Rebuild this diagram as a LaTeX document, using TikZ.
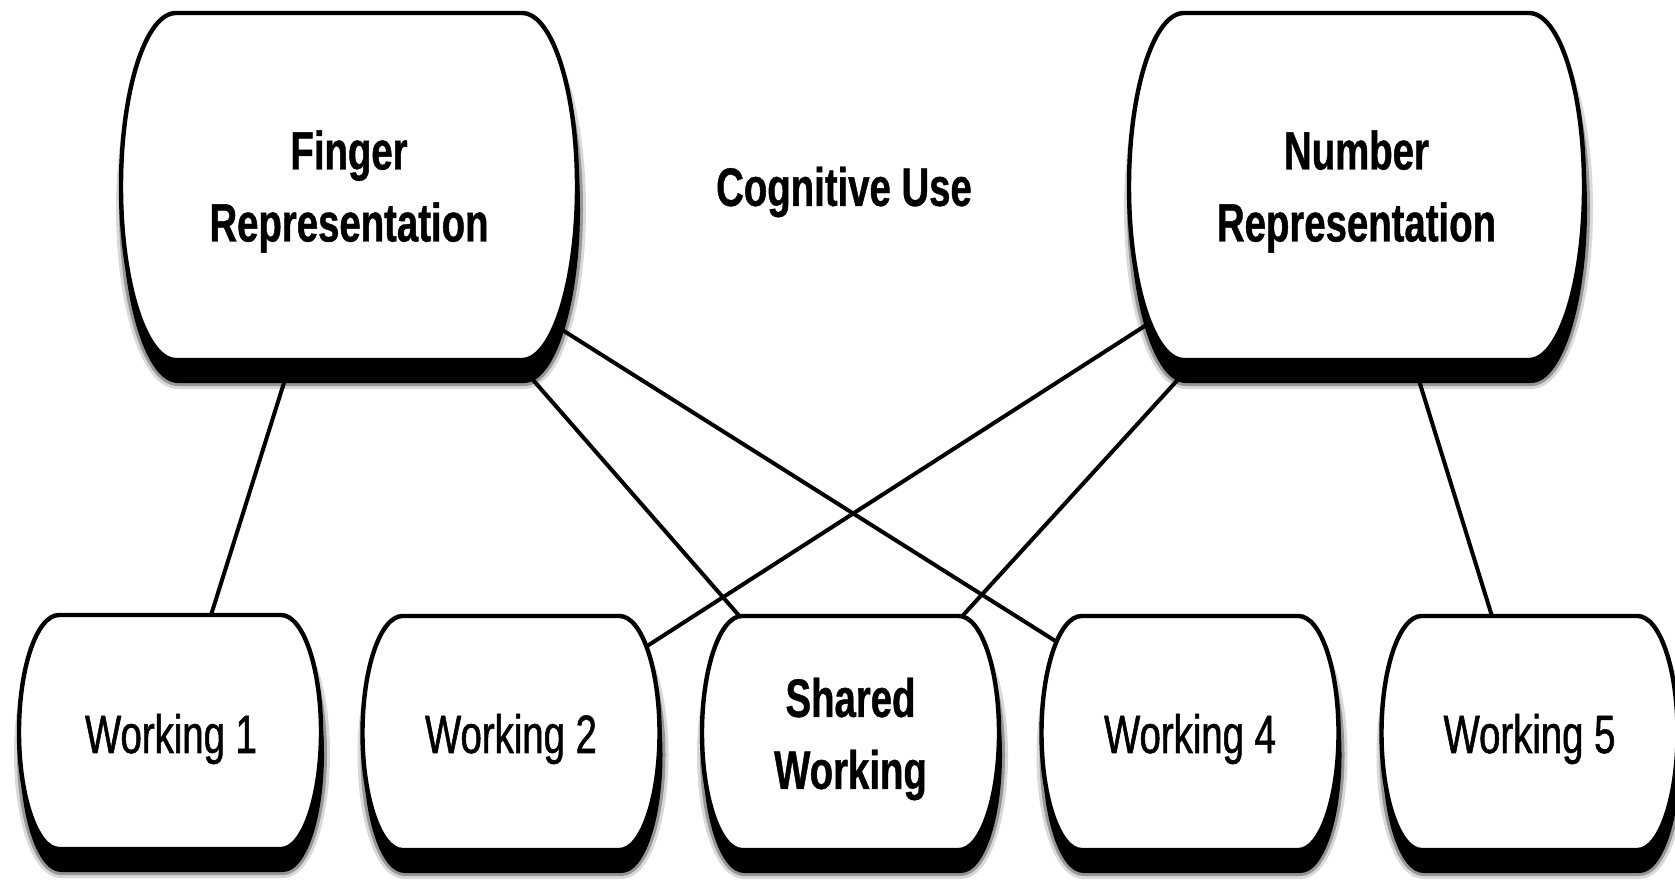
\documentclass[tikz,border=0pt]{standalone}
\usepackage{fontspec}
\newfontfamily\labr[FakeStretch=0.71, FakeBold=1.0]{Liberation Sans}
\newfontfamily\labb[FakeStretch=0.71, FakeBold=0.8]{Liberation Sans Bold}
\usetikzlibrary{calc}
\pgfdeclarelayer{edges}
\pgfdeclarelayer{boxes}
\pgfsetlayers{edges,boxes,main}
% capsule outline: straight top/bottom, half-elliptic sides
\newcommand\capsule[6][]{%
  \path[#1] ({#2-#4/2+#6},{#3-#5/2}) -- ({#2+#4/2-#6},{#3-#5/2})
    arc[start angle=-90,end angle=90,x radius=#6,y radius={#5/2}]
    -- ({#2-#4/2+#6},{#3+#5/2})
    arc[start angle=90,end angle=270,x radius=#6,y radius={#5/2}] -- cycle;}
\newcommand\boxshape[5]{%
  \capsule[shadowsoft]{#1}{#2}{#3}{#4}{#5}%
  \capsule[shadowmid]{#1}{#2}{#3}{#4}{#5}%
  \capsule[shadowfill]{#1}{#2}{#3}{#4}{#5}%
  \capsule[boxline]{#1}{#2}{#3}{#4}{#5}}
\tikzset{
  boxline/.style={draw=black, line width=2.2pt, fill=white},
  shadowsoft/.style={draw=black, line width=7pt, draw opacity=0.15, shift={(2,22)}},
  shadowmid/.style={draw=black, line width=4pt, draw opacity=0.3, shift={(2,22)}},
  shadowfill/.style={fill=black, draw=black, line width=1pt, shift={(2,22)}},
  txt/.style={font=\labr\fontsize{27}{37}\selectfont, align=center, inner sep=0pt},
  bold/.style={font=\labb\fontsize{27}{36}\selectfont},
  topbox/.style={minimum width=228pt, minimum height=173.5pt},
  botbox/.style={minimum width=148.5pt, minimum height=117pt},
  conn/.style={line width=2pt, draw=black},
}
\begin{document}
\begin{tikzpicture}[x=0.5pt, y=-0.5pt]
\useasboundingbox (0,0) rectangle (1675,880);
% text nodes
\node[txt, bold, topbox] (F) at (349,191.5) {Finger\\Representation};
\node[txt, bold, topbox] (N) at (1356.5,191.5) {Number\\Representation};
\node[txt, bold] (C) at (844,192) {Cognitive Use};
\node[txt, botbox] (W1) at (171,739) {Working 1};
\node[txt, botbox] (W2) at (511,739) {Working 2};
\node[txt, bold, botbox] (SW) at (850.5,739) {Shared\\Working};
\node[txt, botbox] (W4) at (1190,739) {Working 4};
\node[txt, botbox] (W5) at (1529.5,739) {Working 5};
% box shapes
\begin{pgfonlayer}{boxes}
  \boxshape{349}{186.5}{456}{347}{55}
  \boxshape{1356.5}{186.5}{455}{347}{55}
  \boxshape{170}{732}{302}{234}{40}
  \boxshape{511}{733}{297}{234}{40}
  \boxshape{850.5}{733}{297}{234}{40}
  \boxshape{1190}{733}{297}{234}{40}
  \boxshape{1529.5}{733}{296}{234}{40}
\end{pgfonlayer}
% connectors
\begin{pgfonlayer}{edges}
  \draw[conn] ($(F.south)+(-55,-14.5)$) -- ($(W1.north)+(36.4,5)$);
  \draw[conn] ($(F.south)+(160.4,-12.5)$) -- ($(SW.north)+(-103.6,3)$);
  \draw[conn] ($(F.center)+(191.8,124.9)$) -- ($(W4.center)+(-114.6,-85.4)$);
  \draw[conn] ($(N.center)+(-194.7,123.5)$) -- ($(W2.center)+(120.6,-83)$);
  \draw[conn] ($(N.south)+(-154.3,-12.4)$) -- ($(SW.north)+(104.2,2.8)$);
  \draw[conn] ($(N.south)+(53.5,-14)$) -- ($(W5.north)+(-34.3,5)$);
\end{pgfonlayer}
\end{tikzpicture}
\end{document}
